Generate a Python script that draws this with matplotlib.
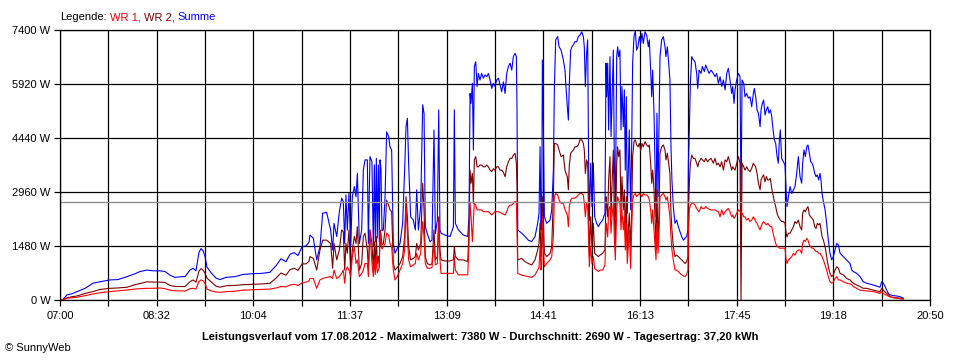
import matplotlib
matplotlib.use('Agg')
from matplotlib import pyplot as plt

plt.rcParams['font.family'] = ['Liberation Sans', 'DejaVu Sans']

# Zeit in Minuten nach 07:00, Leistung in W
minuten = [
    0, 2.9, 6.7, 11.4, 16.2, 23.9, 31.5, 38.2, 47.7, 55.3, 63.9, 71.6, 76.3, 83.0, 88.7, 95.4, 100.2, 104.9, 109.7, 116.4,
    119.3, 124.0, 126.9, 129.7, 132.6, 134.5, 136.4, 138.3, 140.2, 144.1, 148.8, 152.6, 158.4, 167.0, 174.6, 183.2,
    192.7, 200.3, 206.1, 210.8, 215.6, 219.4, 223.2, 227.1, 230.9, 234.7, 237.5,
    238.5, 241.7, 244.9, 248.0, 250.6, 254.4, 258.2, 260.1, 261.4, 264.0, 266.5, 268.7, 270.3, 271.6, 272.8, 274.1,
    275.7, 277.3, 278.9, 280.8, 282.4, 283.7, 285.6, 287.8, 289.4, 291.0, 293.2, 294.2, 295.7, 297.6, 298.9, 299.9,
    300.8, 301.8, 302.7, 303.7, 304.6, 305.3, 306.2, 307.2, 308.5, 310.1, 311.6, 313.5, 314.8, 316.4, 318.0, 319.6,
    321.8, 324.4, 326.9, 328.8, 330.1, 331.4, 332.6, 334.5, 337.1, 339.0, 340.3, 341.9, 344.1, 346.0, 347.3, 348.5,
    350.4, 353.0, 354.9, 356.8, 358.1, 360.0, 361.3, 362.5,
    363.5, 367.3, 372.1, 375.3, 376.2, 377.2, 380.1, 384.8, 389.0, 390.2, 391.2, 392.1, 393.4, 394.4, 395.3, 396.6,
    397.9, 399.1, 400.7, 402.3, 403.9, 405.5, 407.1, 408.7, 410.3, 411.9, 413.5, 415.0, 416.6, 418.2, 419.8, 421.4,
    423.0, 424.6, 426.2, 427.8, 429.4, 431.0, 432.5, 434.1, 435.4, 436.0, 436.7, 440.5, 443.7, 446.8, 450.0, 453.2,
    455.7, 457.0, 458.0, 458.9, 459.6, 460.2, 461.2, 462.1, 464.3, 467.5, 469.1, 470.7, 471.6, 472.9, 474.8, 476.1,
    478.0, 480.2,
    481.8, 482.7, 484.0, 485.0, 485.9, 487.2, 488.4, 489.7, 491.3, 492.9, 494.5, 496.1, 497.7, 499.3, 500.2, 501.2,
    502.4, 503.4, 504.3, 505.0, 506.3, 507.5, 508.8, 510.1, 512.0, 513.6, 515.2, 517.7, 519.9, 520.9, 521.5, 522.5,
    523.4, 524.7, 525.7, 526.6, 527.9, 528.8, 529.8, 531.1, 532.0, 533.0, 534.2, 535.2, 536.1, 537.4, 538.4, 539.3,
    540.3, 541.2, 542.2, 543.1, 544.4, 545.4, 546.3, 547.6, 548.9, 550.1, 551.4, 552.7, 554.0, 555.2, 556.5, 558.1,
    559.7, 561.3, 562.2, 563.5, 564.5, 565.4, 566.7, 567.6, 568.6, 569.5, 570.5, 571.4, 572.4, 574.0, 575.6, 577.2,
    578.1, 579.4, 580.7, 581.9, 582.9, 583.8, 585.1, 586.7, 588.3, 589.9, 591.5, 593.1, 594.7, 596.3, 597.8, 599.1,
    599.5, 600.4, 601.4, 602.7, 604.3, 605.8, 607.4, 608.4, 609.7, 611.6, 612.8, 614.7, 616.0, 617.9, 619.2, 621.1,
    623.3, 624.9, 626.5, 628.1, 629.7, 631.3, 632.9, 634.5, 636.1, 637.6, 639.2, 640.8, 641.8, 643.0, 644.0, 645.6,
    647.2, 648.8, 649.7, 650.7, 652.3, 653.5, 655.1, 656.7, 658.3, 659.9, 661.5, 662.4, 663.7, 665.0, 666.3, 667.9,
    668.8, 670.1, 671.3, 672.6, 673.9, 675.2, 676.4, 677.7, 679.0, 680.3, 681.5, 682.8, 684.1, 685.3, 686.3, 687.2,
    688.5, 690.1, 691.7, 692.7, 693.6, 694.9, 696.5, 698.1, 699.7, 701.2, 702.8, 704.4,
    706.0, 707.6, 708.5, 709.8, 711.1, 712.4, 713.6, 714.9, 716.2, 717.4, 718.7, 720.0, 721.3, 722.5, 723.8, 725.1,
    726.0, 727.0, 728.3, 729.9, 731.4, 733.0, 734.6, 736.2, 737.8, 739.4, 741.0, 742.6, 744.2, 747.3, 750.5, 753.7,
    755.3, 756.9, 760.1, 763.2, 766.4, 769.6, 776.0, 782.3, 783.9, 785.5, 787.1, 788.7, 790.3, 791.9, 795.0, 798.2,
    801.4, 804.6,
]

summe = [
    0, 20, 140, 170, 230, 320, 460, 500, 550, 560, 640, 720, 780, 820, 800, 800, 780, 680, 620, 640,
    640, 820, 870, 800, 1300, 1410, 1350, 1200, 900, 750, 600, 560, 620, 640, 700, 720,
    730, 760, 940, 1130, 1050, 1250, 1300, 1220, 1460, 1480, 1580,
    1780, 1690, 1100, 1460, 2380, 2400, 1920, 1370, 2100, 1740, 2420, 2790, 2700, 1550, 2880, 1920,
    2920, 1460, 2830, 3110, 2830, 3470, 1550, 1920, 3560, 3840, 3840, 1550, 3930, 3790, 1460, 3700,
    1600, 3880, 1700, 3700, 1600, 3840, 3600, 1900, 1920, 2830, 4610, 4480, 4200, 4110, 1550, 1280,
    1420, 1550, 2100, 3560, 4750, 4980, 3750, 2280, 2190, 1920, 3020, 1920, 2560, 5350, 5120, 2010,
    1820, 1600, 1640, 4660, 1820, 2190, 5210, 1920,
    1830, 1780, 1740, 2010, 5210, 2100, 1920, 1780, 1740, 2280, 5660, 5390, 5940, 4110, 6400, 6530,
    5850, 6210, 6030, 6210, 6080, 6170, 6120, 6210, 6030, 5800, 5940, 5850, 6030, 6080, 5900, 5710,
    5980, 5660, 6210, 6400, 6490, 6300, 6670, 6760, 6670, 5210, 1920, 1830, 1740, 1640, 1600, 1740,
    2100, 2380, 4200, 1920, 2470, 6580, 4660, 2280, 2100, 2190, 2470, 3560, 5760, 7130, 7220, 6940,
    6850, 6580,
    6300, 5850, 5300, 4930, 5940, 6850, 6940, 6990, 7080, 7080, 7220, 7260, 7350, 7220, 6940, 5850,
    6760, 7130, 3750, 2190, 3750, 2560, 3750, 2280, 2100, 2010, 2100, 2190, 2380, 6490, 5570, 6490,
    4660, 6670, 4480, 5390, 6850, 3930, 2280, 6670, 6940, 6670, 6850, 4660, 5850, 4750, 5760, 3560,
    5570, 2380, 3560, 4660, 2470, 4200, 6490, 7220, 7380, 6850, 6940, 7220, 7030, 7310, 7030, 7350,
    7260, 6940, 7130, 6300, 5570, 6300, 5120, 3750, 2280, 5120, 2830, 4660, 6670, 7130, 7220, 6940,
    6670, 6940, 6490, 6030, 4200, 3290, 2560, 2100, 2190, 2010, 1870, 1740, 1640, 1690, 1740, 1920,
    3750, 4660, 5940, 6670, 6580, 6530, 6210, 5800, 6300, 6210, 6400, 6260, 6440, 6300, 6210, 6300,
    6210, 6120, 6210, 5940, 6120, 5850, 6030, 5760, 6210, 6350, 6030, 5660, 5850, 5390, 5760, 6030,
    6210, 6120, 2470, 6030, 5940, 5570, 5660, 5530, 5570, 5300, 5660, 5800, 5570, 5210, 5120, 4750,
    5210, 5390, 5480, 5070, 5210, 5300, 5120, 5210, 5030, 4660, 4390, 4290, 3930, 3750, 4390, 4660,
    3880, 3790, 3700, 3020, 2560, 2830, 3110, 2920, 3020, 3110, 3470, 3930,
    3380, 3200, 3750, 4110, 3930, 4200, 4250, 4020, 3790, 3750, 3650, 3470, 3380, 3430, 3290, 3470,
    3290, 2920, 2700, 2470, 2100, 1640, 1280, 1100, 1190, 1370, 1550, 1510, 1280, 1190, 1100, 1000,
    820, 780, 730, 640, 500, 460, 410, 350, 500, 460, 370, 270, 180, 140, 120, 110,
    90, 50,
]

wr2 = [
    0, 10, 60, 90, 110, 180, 230, 290, 320, 330, 350, 420, 450, 500, 490, 490, 480, 400, 370, 370,
    370, 500, 550, 490, 790, 860, 820, 740, 600, 500, 380, 350, 390, 400, 420, 430,
    440, 460, 600, 740, 680, 830, 870, 810, 990, 990, 1060,
    1190, 1140, 820, 1370, 1640, 1640, 1550, 870, 1550, 1100, 1370, 1920, 1870, 820, 1550, 1280,
    1920, 820, 1370, 1740, 1550, 2010, 820, 1000, 1740, 1830, 1370, 870, 1920, 1550, 820, 1600,
    900, 1740, 1000, 1200, 900, 1920, 1800, 1500, 1550, 1920, 2740, 2600, 2470, 2420, 1000, 820,
    890, 1000, 1190, 1740, 2830, 2280, 1460, 1100, 1140, 1190, 1550, 1370, 1550, 3200, 2470, 1190,
    1000, 960, 1000, 1920, 1100, 1190, 2280, 1370,
    1100, 1070, 1070, 1100, 1460, 1190, 1100, 1100, 1050, 1920, 3560, 3200, 3470, 2650, 3840, 3930,
    3650, 3650, 3700, 3700, 3650, 3650, 3700, 3650, 3560, 3520, 3600, 3560, 3650, 3650, 3560, 3560,
    3500, 3380, 3650, 3790, 3880, 3880, 3970, 4020, 3750, 3100, 1100, 1140, 1050, 1000, 960, 1100,
    1370, 1550, 2100, 1190, 1550, 2830, 2100, 1280, 1190, 1280, 1460, 2830, 4290, 4290, 4250, 4110,
    3930, 3970,
    3560, 3470, 3380, 3020, 3700, 4020, 4070, 4110, 4200, 4200, 4250, 4390, 4390, 4290, 4110, 3470,
    3840, 3750, 2380, 1190, 2280, 1460, 2100, 1280, 1230, 1190, 1230, 1280, 1370, 2830, 2650, 2280,
    3290, 3930, 2280, 3110, 4110, 2380, 1550, 3750, 4200, 3930, 4110, 2380, 3380, 2470, 3020, 1730,
    2830, 1370, 1920, 2380, 1460, 2380, 3930, 4340, 4390, 4250, 4200, 4290, 4110, 4290, 4200, 4340,
    4250, 4200, 4250, 3750, 3200, 3560, 3020, 2280, 1370, 3020, 1550, 2280, 4020, 4200, 4250, 4110,
    3840, 4020, 3750, 3470, 2380, 1920, 1460, 1190, 1230, 1190, 1140, 1100, 1050, 1000, 1050, 1190,
    2470, 3200, 3750, 3970, 3880, 3880, 3750, 3650, 3790, 3880, 3840, 3790, 3880, 3790, 3840, 3880,
    3750, 3880, 3700, 3750, 3650, 3790, 3560, 3840, 3790, 3930, 3750, 3560, 3650, 3600, 3560, 3750,
    3930, 3750, 0, 3750, 3650, 3560, 3650, 3560, 3520, 3610, 3750, 3700, 3650, 3470, 3200, 3020,
    3290, 3380, 3430, 3240, 3380, 3290, 3290, 3330, 3060, 2880, 2700, 2560, 2370, 2280, 2240, 2190,
    2150, 2150, 2100, 1830, 1730, 1830, 1830, 1920, 2010, 2150, 2100, 2190,
    2010, 1920, 2380, 2470, 2420, 2510, 2560, 2330, 2280, 2240, 2190, 2010, 1960, 2100, 2060, 2100,
    1920, 1740, 1640, 1460, 1190, 910, 730, 640, 690, 820, 910, 870, 730, 690, 590, 550,
    500, 460, 410, 370, 320, 320, 270, 230, 320, 270, 220, 180, 140, 90, 70, 60,
    50, 30,
]

wr1 = [
    0, 10, 50, 60, 75, 120, 165, 200, 230, 250, 275, 300, 310, 320, 320, 330, 310, 270, 250, 250,
    240, 310, 320, 300, 510, 550, 530, 460, 300, 250, 220, 210, 230, 240, 270, 280,
    290, 300, 330, 370, 360, 410, 430, 400, 470, 490, 520,
    590, 590, 320, 550, 590, 620, 640, 590, 820, 590, 640, 730, 820, 460, 820, 910,
    820, 640, 1190, 1460, 1000, 1100, 640, 730, 820, 1000, 1000, 640, 1920, 1000, 640, 1100,
    700, 1190, 750, 820, 900, 1920, 1500, 1400, 1460, 1550, 1830, 1780, 1550, 1460, 820, 550,
    640, 820, 1000, 1370, 2600, 1830, 1100, 910, 960, 1000, 1280, 1100, 1280, 2150, 1730, 1000,
    870, 870, 890, 1550, 960, 1000, 2150, 1100,
    730, 730, 730, 730, 1190, 820, 690, 690, 690, 1550, 2650, 2300, 1600, 2200, 2650, 2600,
    2470, 2470, 2470, 2470, 2420, 2420, 2420, 2420, 2380, 2330, 2380, 2420, 2420, 2420, 2400, 2380,
    2350, 2330, 2420, 2560, 2600, 2600, 2650, 2700, 2700, 1920, 730, 680, 660, 640, 620, 690,
    820, 900, 1460, 820, 1000, 2280, 1460, 910, 1000, 1100, 1190, 1740, 2830, 2920, 2880, 2740,
    2650, 2650,
    2470, 2420, 2330, 2010, 2560, 2740, 2790, 2790, 2790, 2830, 2880, 2920, 2920, 2880, 2650, 2280,
    2650, 2560, 1740, 910, 1460, 1000, 1190, 860, 820, 780, 820, 820, 960, 2100, 2000, 1730,
    2470, 2560, 1830, 2280, 2650, 1730, 1100, 2470, 2830, 2740, 2650, 1920, 2470, 1920, 2280, 1370,
    2100, 1000, 1460, 1920, 860, 1920, 2740, 2880, 2920, 2830, 2880, 2920, 2880, 2830, 2920, 2880,
    2880, 2830, 2740, 2470, 2100, 2470, 1920, 1550, 1100, 2100, 1280, 1730, 2830, 2880, 2920, 2830,
    2740, 2830, 2560, 2280, 1730, 1370, 1100, 820, 820, 780, 730, 690, 660, 640, 690, 820,
    1920, 2470, 2600, 2650, 2650, 2600, 2510, 2470, 2420, 2560, 2510, 2510, 2560, 2510, 2490, 2470,
    2470, 2470, 2440, 2420, 2280, 2470, 2330, 2420, 2470, 2510, 2420, 2280, 2330, 2240, 2280, 2380,
    2470, 2420, 2380, 2380, 2280, 2280, 2190, 2240, 2150, 2190, 2280, 2240, 2150, 2100, 2010, 1920,
    2010, 2100, 2150, 2100, 2060, 2100, 2060, 2010, 2010, 1830, 1690, 1550, 1460, 1460, 1420, 1420,
    1420, 1420, 1420, 1100, 1000, 1100, 1140, 1190, 1280, 1230, 1330, 1370,
    1370, 1280, 1550, 1640, 1600, 1690, 1640, 1510, 1460, 1420, 1420, 1370, 1330, 1330, 1280, 1280,
    1230, 1190, 1100, 960, 820, 640, 500, 460, 500, 590, 640, 550, 550, 500, 460, 440,
    420, 370, 320, 270, 260, 250, 230, 180, 230, 180, 140, 140, 100, 90, 60, 45,
    35, 25,
]

durchschnitt = 2690
y_werte = [0, 1480, 2960, 4440, 5920, 7400]
x_labels = ['07:00', '08:32', '10:04', '11:37', '13:09', '14:41', '16:13', '17:45', '19:18', '20:50']
titel = ('Leistungsverlauf vom 17.08.2012 - Maximalwert: 7380 W - '
         'Durchschnitt: 2690 W - Tagesertrag: 37,20 kWh')
legende = [('Legende:', 'black'), ('WR 1,', '#ff0000'), ('WR 2,', '#800000'), ('Summe', '#0000ff')]

W, H = 960, 360
fig = plt.figure(figsize=(W / 100, H / 100), dpi=100)
ax = fig.add_axes([60 / W, 60 / H, 870 / W, 270 / H])

dauer = 830  # 07:00 bis 20:50
ax.set_xlim(0, dauer)
ax.set_ylim(0, 7400)
ax.set_xticks([i * dauer / 9 for i in range(10)])
ax.set_xticklabels(x_labels)
ax.set_xticks([i * dauer / 18 for i in range(1, 18, 2)], minor=True)
ax.set_yticks(y_werte)
ax.set_yticklabels([f'{v} W' for v in y_werte])

ax.grid(True, which='both', color='black', lw=0.9, zorder=0)
ax.set_axisbelow(True)
ax.tick_params(which='both', direction='out', length=4, width=0.9, color='black', labelsize=8)
ax.tick_params(axis='x', pad=4)
ax.tick_params(axis='y', pad=3)
for s in ax.spines.values():
    s.set_color('black')
    s.set_linewidth(0.9)

ax.plot(minuten, summe, color='#0000ff', lw=0.8)
ax.plot(minuten, wr2, color='#800000', lw=0.8)
ax.plot(minuten, wr1, color='#ff0000', lw=0.8)
ax.axhline(durchschnitt, color='#909090', lw=1)

# Legende als farbiger Text oben links
r = fig.canvas.get_renderer()
x = 60
for text, farbe in legende:
    t = fig.text(x / W, 1 - 17 / H, text, color=farbe, fontsize=8, va='center')
    x += t.get_window_extent(r).width + 3

fig.text(480 / W, 1 - 337 / H, titel, ha='center', va='center', fontsize=8, fontweight='bold')
fig.text(5 / W, 1 - 348 / H, '\u00a9 SunnyWeb', fontsize=8, va='center')

fig.savefig('out.png', dpi=100)
